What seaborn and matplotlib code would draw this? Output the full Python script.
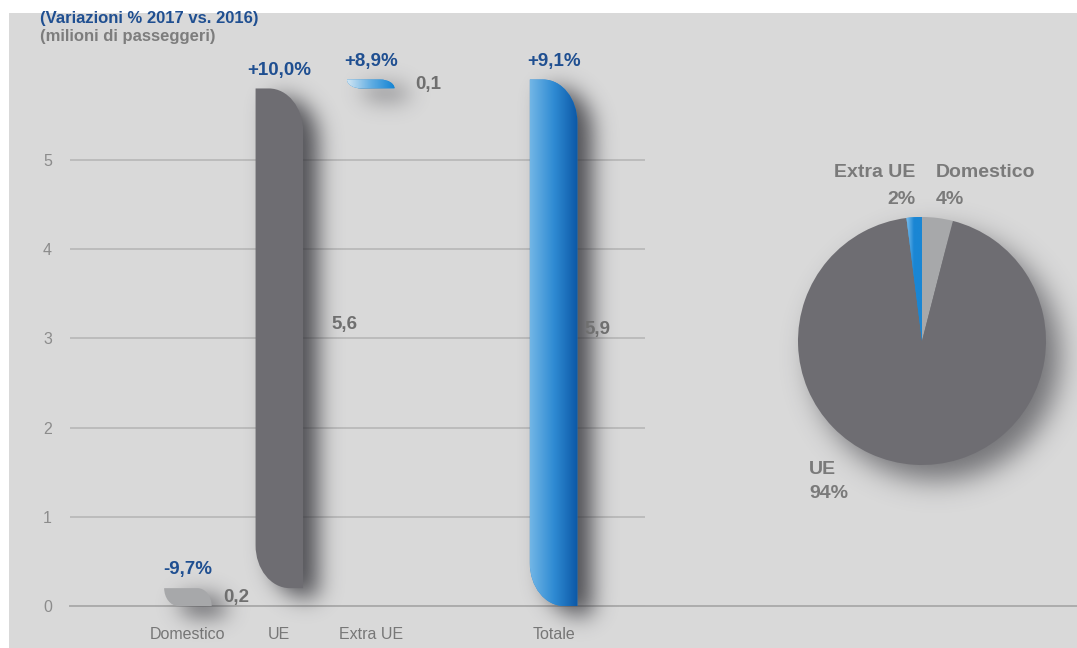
import numpy as np
import pandas as pd
import matplotlib
matplotlib.use("Agg")
import matplotlib.pyplot as plt
from matplotlib.path import Path
from matplotlib.patches import PathPatch, Circle, Rectangle
from matplotlib.colors import LinearSegmentedColormap
import seaborn as sns

# ---- dati ----
categorie = ["Domestico", "UE", "Extra UE", "Totale"]
valori = [0.2, 5.6, 0.1, 5.9]                  # milioni di passeggeri
etichette_valori = ["0,2", "5,6", "0,1", "5,9"]
variazioni = ["-9,7%", "+10,0%", "+8,9%", "+9,1%"]
ordine_asse = ["Domestico", "UE", "Extra UE", " ", "Totale"]
tick_y = [0, 1, 2, 3, 4, 5]

fette = ["Domestico", "UE", "Extra UE"]
quote = [4, 94, 2]
etichette_quote = ["4%", "94%", "2%"]

# basi della cascata: le componenti si impilano, il totale parte da zero
basi = [0.0, valori[0], valori[0] + valori[1], 0.0]

# ---- stile ----
plt.rcParams["font.family"] = ["Liberation Sans", "DejaVu Sans"]
SFONDO = "#d9d9d9"
BLU_TESTO = "#1f4f91"
GRIGIO_TESTO = "#6f6f6f"
colori = {"Domestico": "#a7a8aa", "UE": "#6e6d72",
          "Extra UE": "#1d8ad6", "Totale": "#2a84cf"}
sfumature = {
    "Extra UE": LinearSegmentedColormap.from_list("xue", ["#d2e6f3", "#62aee3", "#1283d3"]),
    "Totale": LinearSegmentedColormap.from_list("tot", ["#72b6e6", "#2f8bd3", "#0b57a6"]),
}


def sfoca(a, sigma):
    r = int(3 * sigma) + 1
    k = np.exp(-0.5 * (np.arange(-r, r + 1) / sigma) ** 2)
    k /= k.sum()
    a = np.apply_along_axis(lambda v: np.convolve(v, k, mode="same"), 0, a)
    a = np.apply_along_axis(lambda v: np.convolve(v, k, mode="same"), 1, a)
    return a


class Ombra:
    """Filtro agg: ombra sfocata e spostata della sagoma disegnata."""

    def __init__(self, sigma, dx, dy, alpha, colore=(0.18, 0.18, 0.2)):
        self.sigma, self.dx, self.dy = sigma, dx, dy
        self.alpha, self.colore = alpha, colore

    def __call__(self, im, dpi):
        s = self.sigma * dpi / 100.0
        dx = int(round(self.dx * dpi / 100.0))
        dy = int(round(self.dy * dpi / 100.0))
        pad = int(3 * s + max(abs(dx), abs(dy))) + 2
        a = np.pad(im[:, :, 3], pad)
        a = np.roll(np.roll(a, dx, axis=1), dy, axis=0)
        a = np.clip(sfoca(a, s) * self.alpha, 0, 1)
        out = np.zeros(a.shape + (4,))
        out[..., :3] = self.colore
        out[..., 3] = a
        return out, -pad, -pad


def sagoma(x0, w, y0, h):
    """Barra con angoli arrotondati in alto a destra e in basso a sinistra."""
    k = 0.5523
    ry = min(0.48, h)
    rx = w * min(0.72, max(0.3, 0.72 * h / 0.48))
    x1, y1 = x0 + w, y0 + h
    verts = [
        (x0 + rx, y0), (x1, y0), (x1, y1 - ry),
        (x1, y1 - ry + k * ry), (x1 - rx + k * rx, y1), (x1 - rx, y1),
        (x0, y1), (x0, y0 + ry),
        (x0, y0 + ry - k * ry), (x0 + rx - k * rx, y0), (x0 + rx, y0),
        (x0 + rx, y0),
    ]
    codes = [Path.MOVETO, Path.LINETO, Path.LINETO,
             Path.CURVE4, Path.CURVE4, Path.CURVE4,
             Path.LINETO, Path.LINETO,
             Path.CURVE4, Path.CURVE4, Path.CURVE4,
             Path.CLOSEPOLY]
    return Path(verts, codes)


W, H = 1077, 648
fig = plt.figure(figsize=(W / 100, H / 100), dpi=100, facecolor="white")
fig.add_artist(Rectangle((9 / W, 0), 1 - 9 / W, 1 - 13 / H, transform=fig.transFigure,
                         facecolor=SFONDO, edgecolor="none", zorder=-10))

# ---- grafico a cascata ----
ax = fig.add_axes([70 / W, 42 / H, 575 / W, 580 / H])
ax.patch.set_visible(False)

df = pd.DataFrame({"categoria": categorie, "valore": valori})
sns.barplot(data=df, x="categoria", y="valore", order=ordine_asse, hue="categoria",
            palette=colori, legend=False, width=0.52, saturation=1, ax=ax)

for p in list(ax.patches):
    xc = p.get_x() + p.get_width() / 2
    nome = ordine_asse[int(round(xc))]
    i = categorie.index(nome)
    x0, w, h = p.get_x(), p.get_width(), p.get_height()
    y0 = basi[i]
    p.set_visible(False)
    path = sagoma(x0, w, y0, h)

    ombra = PathPatch(path, facecolor="black", edgecolor="none", zorder=1.5, clip_on=False)
    ombra.set_agg_filter(Ombra(sigma=11, dx=15, dy=9, alpha=0.8))
    ax.add_patch(ombra)

    barra = PathPatch(path, facecolor=colori[nome], edgecolor="none", zorder=2, clip_on=False)
    ax.add_patch(barra)
    if nome in sfumature:
        grad = np.linspace(0, 1, 256).reshape(1, -1)
        im = ax.imshow(grad, cmap=sfumature[nome], extent=(x0, x0 + w, y0, y0 + h),
                       aspect="auto", zorder=3, interpolation="bicubic")
        im.set_clip_path(barra)

    # variazione percentuale sopra la barra
    ax.text(xc, y0 + h + 0.11, variazioni[i], ha="center", va="bottom",
            fontsize=13.5, fontweight="bold", color=BLU_TESTO, zorder=5)
    # valore a destra della barra
    spost = {"Domestico": 0.13, "UE": 0.31, "Extra UE": 0.23, "Totale": 0.08}[nome]
    ym = y0 + h / 2 + (0.15 if h > 1 else 0.0)
    ax.text(x0 + w + spost, ym, etichette_valori[i], ha="left", va="center",
            fontsize=13.5, fontweight="bold", color=GRIGIO_TESTO, zorder=5)

ax.set_xlim(-1.29, 5.0)
ax.set_ylim(0, 6.5)
ax.set_yticks(tick_y)
ax.set_yticklabels([str(t) for t in tick_y])
ax.set_xlabel("")
ax.set_ylabel("")
ax.tick_params(axis="y", length=0, pad=13, labelcolor="#8c8c8c", labelsize=11.5)
ax.tick_params(axis="x", length=0, pad=15, labelcolor="#777777", labelsize=11.5)
for s in ax.spines.values():
    s.set_visible(False)
ax.set_axisbelow(True)
ax.grid(axis="y", color="#b7b7b7", linewidth=1.2)
ax.grid(axis="x", visible=False)
ax.axhline(0, xmin=0, xmax=(W - 70) / 575, color="#acacac", linewidth=1.4,
           clip_on=False, zorder=1)

fig.text(40 / W, 1 - 19 / H, "(Variazioni % 2017 vs. 2016)", ha="left", va="center",
         fontsize=12, fontweight="bold", color=BLU_TESTO)
fig.text(40 / W, 1 - 37 / H, "(milioni di passeggeri)", ha="left", va="center",
         fontsize=12, fontweight="bold", color="#7d7d7d")

# ---- torta delle quote ----
axp = fig.add_axes([798 / W, 183 / H, 248 / W, 248 / H])
axp.patch.set_visible(False)
colori_torta = [colori["Domestico"], colori["UE"], colori["Extra UE"]]
spicchi, _ = axp.pie(quote, colors=colori_torta, startangle=90, counterclock=False,
                     radius=1, wedgeprops=dict(linewidth=0, zorder=2))
# sfumatura sullo spicchio Extra UE
grad = np.linspace(0, 1, 64).reshape(1, -1)
imp = axp.imshow(grad, cmap=LinearSegmentedColormap.from_list("p", ["#8cc6ee", "#1a86d4", "#1a86d4"]),
                 extent=(-0.14, 0.0, 0.0, 1.0), aspect="auto", zorder=3)
imp.set_clip_path(spicchi[2])
ombra_torta = Circle((0, 0), 1, facecolor="black", edgecolor="none", zorder=1, clip_on=False)
ombra_torta.set_agg_filter(Ombra(sigma=14, dx=14, dy=15, alpha=0.6))
axp.add_patch(ombra_torta)
axp.set_xlim(-1, 1)
axp.set_ylim(-1, 1)
axp.set_aspect("equal")
axp.set_axis_off()

stile = dict(fontsize=14, fontweight="bold", color="#7a7a7a", clip_on=False, va="center")
axp.text(0.113, 1.355, fette[0], ha="left", **stile)
axp.text(0.113, 1.145, etichette_quote[0], ha="left", **stile)
axp.text(-0.056, 1.355, fette[2], ha="right", **stile)
axp.text(-0.056, 1.145, etichette_quote[2], ha="right", **stile)
axp.text(-0.91, -1.04, fette[1], ha="left", **stile)
axp.text(-0.91, -1.226, etichette_quote[1], ha="left", **stile)

fig.savefig("out.png", dpi=100, facecolor="white")
